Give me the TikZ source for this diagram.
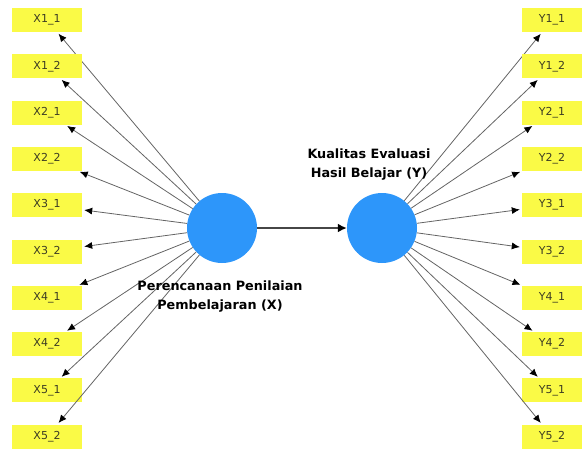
\documentclass[tikz,border=0pt]{standalone}
\usepackage{fontspec}
\setmainfont{DejaVu Sans}
\usetikzlibrary{arrows.meta}
\definecolor{boxyellow}{RGB}{250,250,70}
\definecolor{lvblue}{RGB}{45,150,250}
\definecolor{boxtext}{RGB}{60,60,35}
\definecolor{linegray}{RGB}{100,100,100}
\definecolor{pathgray}{RGB}{70,70,70}
\begin{document}
\begin{tikzpicture}[x=1pt,y=-1pt,
  indicator/.style={fill=boxyellow, minimum width=70pt, minimum height=24pt, inner sep=0pt,
    font=\fontsize{11}{12}\selectfont, text=boxtext},
  rindicator/.style={indicator, minimum width=60pt},
  latent/.style={circle, fill=lvblue, minimum size=70pt, inner sep=0pt},
  loading/.style={draw=linegray, line width=0.8pt, -{Latex[length=8pt,width=7pt,color=black]}, shorten >=2pt},
  structpath/.style={draw=pathgray, line width=2.5pt, -{Latex[length=9pt,width=9pt,color=black]}},
  lvlabel/.style={font=\fontsize{12.8}{19}\selectfont\bfseries, align=center, text=black}
]
\useasboundingbox (0,0) rectangle (582,448);
\node[latent] (X) at (222,228) {};
\node[latent] (Y) at (382,228) {};
\foreach \lab [count=\i from 0] in {X1\_1,X1\_2,X2\_1,X2\_2,X3\_1,X3\_2,X4\_1,X4\_2,X5\_1,X5\_2}{
  \node[indicator] (xi\i) at (47,20+46.3*\i) {\lab};
  \draw[loading] (X) -- (xi\i);
}
\foreach \lab [count=\i from 0] in {Y1\_1,Y1\_2,Y2\_1,Y2\_2,Y3\_1,Y3\_2,Y4\_1,Y4\_2,Y5\_1,Y5\_2}{
  \node[rindicator] (yi\i) at (552,20+46.3*\i) {\lab};
  \draw[loading] (Y) -- (yi\i);
}
\draw[structpath] (X) -- (Y);
\node[lvlabel] (lx) at (220,297) {Perencanaan Penilaian\\Pembelajaran (X)};
\node[lvlabel] (ly) at (369,165) {Kualitas Evaluasi\\Hasil Belajar (Y)};
\end{tikzpicture}
\end{document}
